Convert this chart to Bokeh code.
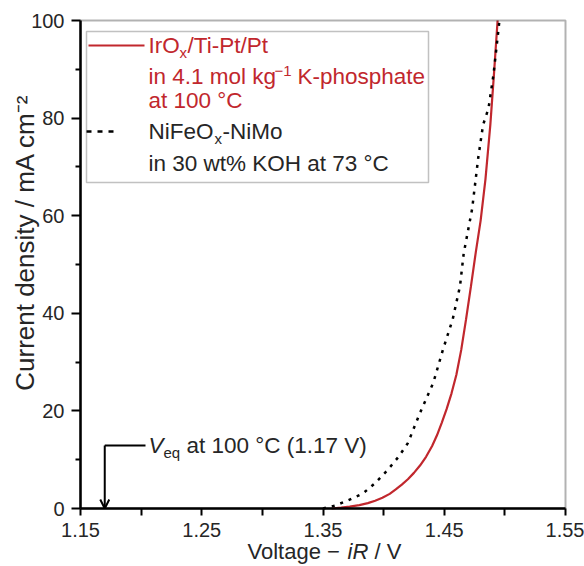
import math
from bokeh.plotting import figure
from bokeh.models import FixedTicker, Label, BoxAnnotation, Arrow, OpenHead, Range1d
from bokeh.embed import file_html
from bokeh.resources import INLINE

# ---- data ----
ir_v = [1.357, 1.365, 1.372, 1.380, 1.387, 1.393, 1.399, 1.405, 1.410, 1.415, 1.420, 1.425,
        1.430, 1.435, 1.440, 1.444, 1.448, 1.452, 1.456, 1.460, 1.464, 1.468, 1.472,
        1.476, 1.480, 1.484, 1.488, 1.491, 1.494]
ir_j = [0.0, 0.2, 0.4, 0.7, 1.1, 1.6, 2.2, 3.0, 3.9, 4.9, 6.0, 7.3,
        8.8, 10.6, 12.8, 15.0, 17.6, 20.4, 23.6, 27.4, 32.5, 38.8, 45.5,
        52.5, 59.0, 67.5, 78.6, 89.0, 100.0]
ni_v = [1.350, 1.360, 1.370, 1.383, 1.393, 1.403, 1.412, 1.420, 1.430, 1.441, 1.449, 1.457,
        1.463, 1.466, 1.473, 1.478, 1.482, 1.4865, 1.4906, 1.494, 1.4955]
ni_j = [0.0, 0.6, 1.6, 3.1, 5.2, 7.8, 10.5, 13.4, 19.6, 25.8, 32.6, 38.8,
        45.6, 52.2, 61.4, 71.8, 78.6, 82.0, 88.9, 96.5, 100.0]
v_eq = 1.17

x_major = [1.15, 1.20, 1.25, 1.30, 1.35, 1.40, 1.45, 1.50, 1.55]
x_labels = {1.15: "1.15", 1.2: "", 1.25: "1.25", 1.3: "", 1.35: "1.35", 1.4: "",
            1.45: "1.45", 1.5: "", 1.55: "1.55"}
y_major = [0, 20, 40, 60, 80, 100]
y_minor = [10, 30, 50, 70, 90]
y_title = "Current density / mA cm\u207b\u00b2"

RED = "#c1272d"
TXT = "#262626"
FONT = "Liberation Sans"
FS = 22.5      # legend / annotation text
TICK_FS = 20
NB = "\u00a0"

X0, X1, Y0, Y1 = 1.15, 1.55, 0.0, 100.0
# page-pixel position of the axes box
PL, PR, PT, PB = 80.0, 565.0, 20.0, 508.0
W, H = 584, 566


def xd(px):
    return X0 + (px - PL) * (X1 - X0) / (PR - PL)


def yd(py):
    return Y0 + (PB - py) * (Y1 - Y0) / (PB - PT)


# the drawing frame covers the whole canvas; axes are pinned at the data box edges
p = figure(width=W, height=H, x_range=Range1d(xd(0), xd(W)), y_range=Range1d(yd(H), yd(0)),
           output_backend="svg", toolbar_location=None,
           min_border_left=0, min_border_right=0, min_border_top=0, min_border_bottom=0)
p.xgrid.visible = False
p.ygrid.visible = False
p.outline_line_color = None
p.background_fill_color = "white"
p.border_fill_color = "white"

# axes
p.xaxis.fixed_location = Y0
p.yaxis.fixed_location = X0
p.xaxis.bounds = (X0, X1)
p.yaxis.bounds = (Y0, Y1)
p.xaxis.ticker = FixedTicker(ticks=x_major)
p.xaxis.major_label_overrides = x_labels
p.xaxis.major_tick_out = 7
p.xaxis.major_tick_in = 0
p.xaxis.minor_tick_line_color = None
p.yaxis.ticker = FixedTicker(ticks=y_major, minor_ticks=y_minor)
p.yaxis.major_tick_out = 9
p.yaxis.major_tick_in = 0
p.yaxis.minor_tick_out = 5
p.yaxis.minor_tick_in = 0
for ax in (p.xaxis[0], p.yaxis[0]):
    ax.axis_line_width = 2.5
    ax.axis_line_color = "black"
    ax.major_tick_line_width = 2
    ax.minor_tick_line_width = 2
    ax.major_label_text_font = FONT
    ax.major_label_text_font_size = f"{TICK_FS}px"
    ax.major_label_text_color = TXT
p.xaxis.major_label_standoff = 7
p.yaxis.major_label_standoff = 7

# axes box (top and right border)
p.add_layout(BoxAnnotation(left=X0, right=X1, bottom=Y0, top=Y1, fill_color=None,
                           line_color="black", line_width=2))

# curves
p.line(ir_v, ir_j, line_color=RED, line_width=2.2)
p.line(ni_v, ni_j, line_color="black", line_width=2.5, line_dash="3 6")


def lab(text, px, py, size=FS, color=TXT, style="normal", align="left", angle=0.0):
    p.add_layout(Label(x=xd(px), y=yd(py), text=text, text_font=FONT, angle=angle,
                       text_font_size=f"{size}px", text_color=color,
                       text_font_style=style, text_align=align, text_baseline="middle"))


# axis titles
lab(y_title, 24, 242, size=26, align="center", angle=math.pi / 2)
lab("Voltage" + NB + "\u2212", 247, 551, size=22)
lab("iR", 347, 551, size=22, style="italic")
lab("/" + NB + "V", 374, 551, size=22)

# legend box
p.add_layout(BoxAnnotation(left=xd(86), right=xd(428), top=yd(31), bottom=yd(182),
                           fill_color=None, line_color="#333333", line_width=1.5))
p.line([xd(88), xd(144)], [yd(45), yd(45)], line_color=RED, line_width=2.2)
p.line([xd(86), xd(113)], [yd(131), yd(131)], line_color="black", line_width=2.5, line_dash="5 6")

lab("IrO", 148, 45, color=RED)
lab("x", 179, 52, size=15, color=RED)
lab("/Ti-Pt/Pt", 187, 45, color=RED)
lab("in 4.1 mol kg", 148, 76, color=RED)
lab("\u22121", 274, 70, size=15, color=RED)
lab("K-phosphate", 297, 76, color=RED)
lab("at 100 \u00b0C", 148, 100, color=RED)
lab("NiFeO", 148, 131)
lab("x", 214, 138, size=15)
lab("-NiMo", 222, 131)
lab("in 30 wt% KOH at 73 \u00b0C", 148, 163)

# V_eq annotation
p.line([v_eq, xd(145)], [yd(445), yd(445)], line_color="black", line_width=2)
p.add_layout(Arrow(x_start=v_eq, y_start=yd(445), x_end=v_eq, y_end=0,
                   line_color="black", line_width=2,
                   end=OpenHead(size=9, line_color="black", line_width=2)))
lab("V", 148, 445, style="italic")
lab("eq", 163, 452, size=15)
lab("at 100 \u00b0C (1.17 V)", 186, 445)

open("out.html", "w").write(file_html(p, INLINE))
